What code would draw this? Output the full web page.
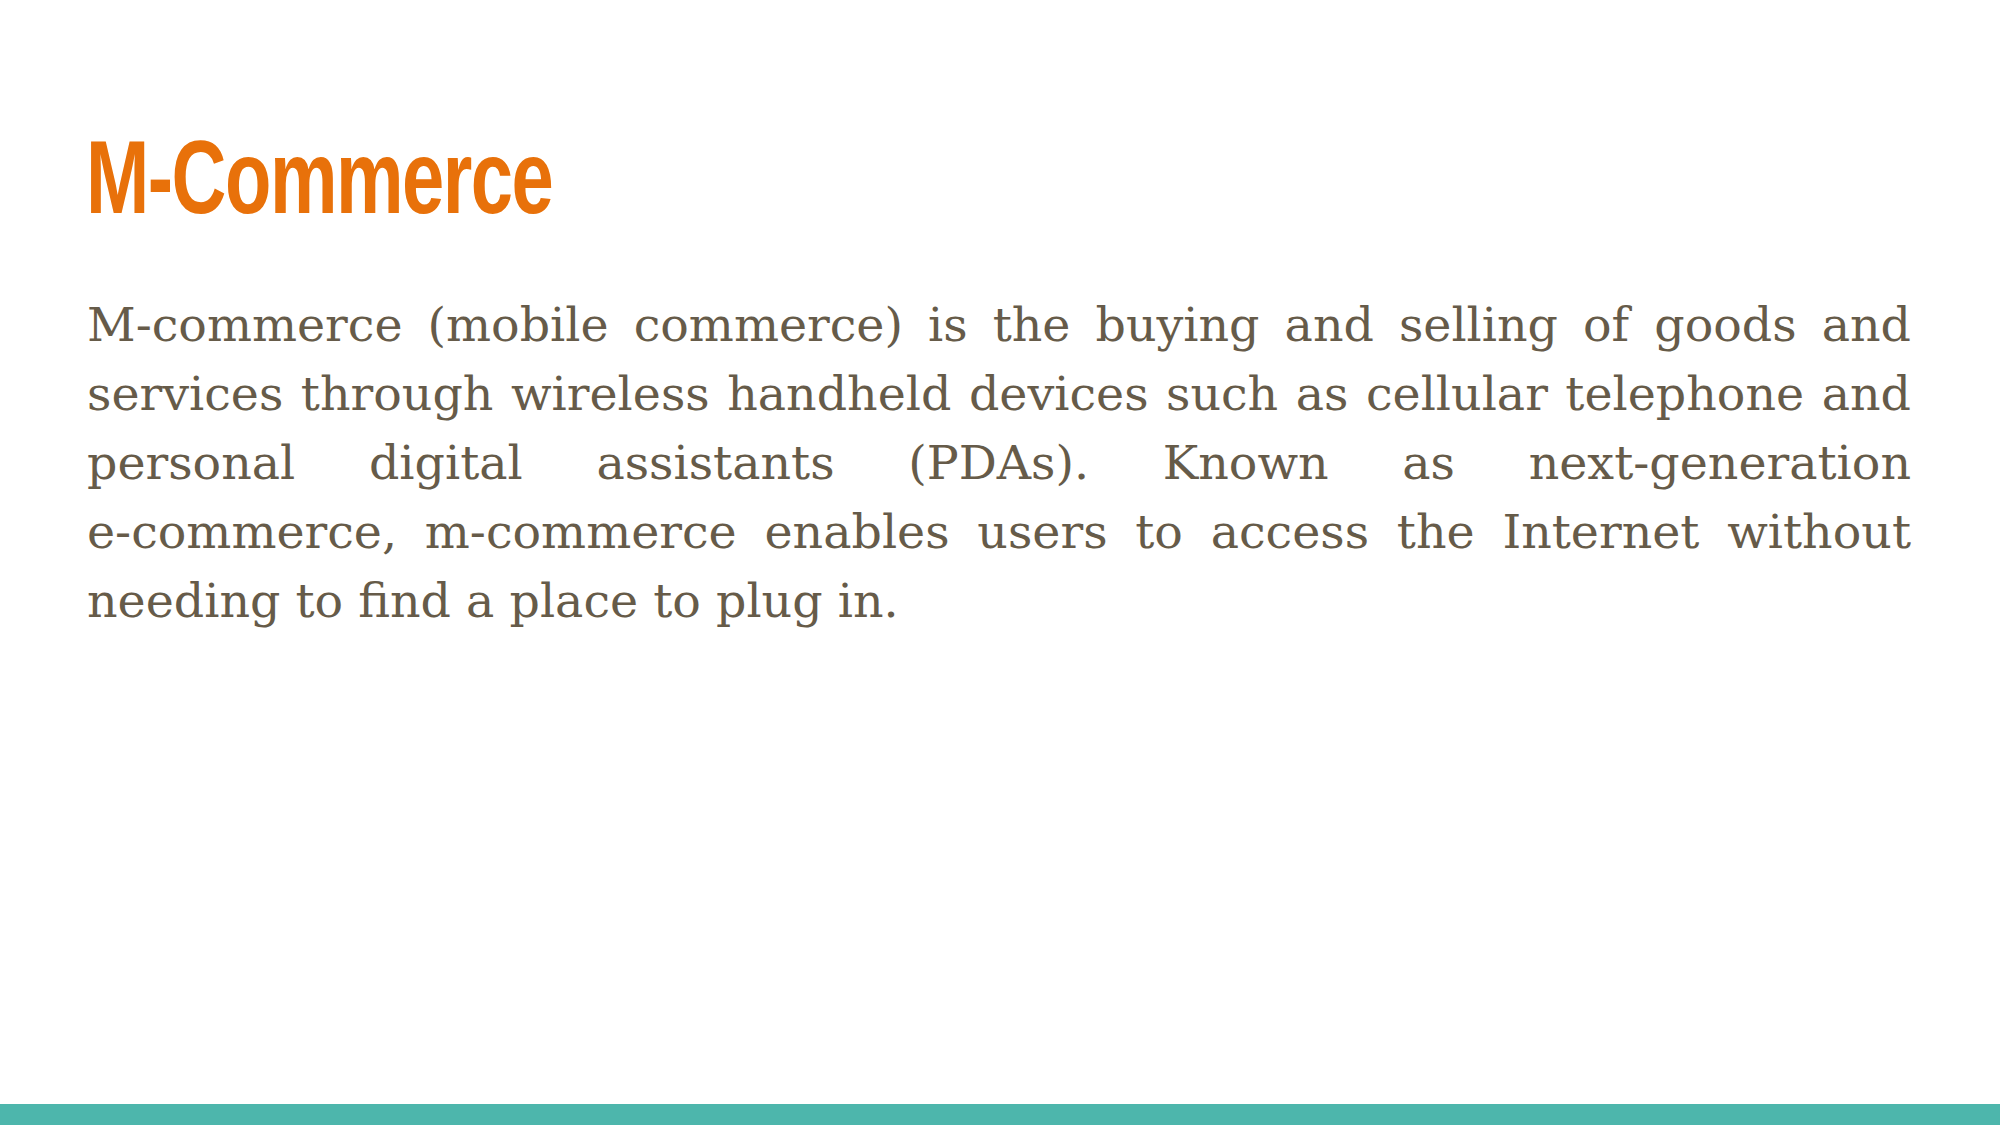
<!DOCTYPE html>
<html>
<head>
<meta charset="utf-8">
<script src="https://cdn.jsdelivr.net/npm/chart.js@4"></script>
<style>
  html, body { margin: 0; padding: 0; background: #fff; }
  body { width: 2000px; height: 1125px; position: relative; overflow: hidden; }
  #title {
    position: absolute; left: 86px; top: 118px;
    font-family: "Liberation Sans Narrow", "Liberation Sans", sans-serif;
    font-weight: bold; font-size: 104px; color: #e8710a; letter-spacing: -2px;
    transform: scaleX(0.73); transform-origin: left top;
  }
  #body {
    position: absolute; left: 87px; top: 290px; width: 1824px;
    font-family: "DejaVu Serif", serif; font-size: 47.5px; line-height: 69px;
    color: #665b49;
  }
  #body div { text-align: justify; text-align-last: justify; white-space: nowrap; }
  #body div.last { text-align-last: left; }
  #bar { position: absolute; left: 0; bottom: 0; width: 2000px; height: 21px; background: #4db6ac; }
</style>
</head>
<body>
<div id="title"></div>
<div id="body"></div>
<div id="bar"></div>
<script>
const titleText = 'M-Commerce';
const bodyLines = [
  'M-commerce (mobile commerce) is the buying and selling of goods and',
  'services through wireless handheld devices such as cellular telephone and',
  'personal digital assistants (PDAs). Known as next-generation',
  'e-commerce, m-commerce enables users to access the Internet without',
  'needing to find a place to plug in.'
];
document.getElementById('title').textContent = titleText;
const body = document.getElementById('body');
bodyLines.forEach((t, i) => {
  const d = document.createElement('div');
  d.textContent = t;
  if (i === bodyLines.length - 1) d.className = 'last';
  body.appendChild(d);
});
</script>
</body>
</html>
